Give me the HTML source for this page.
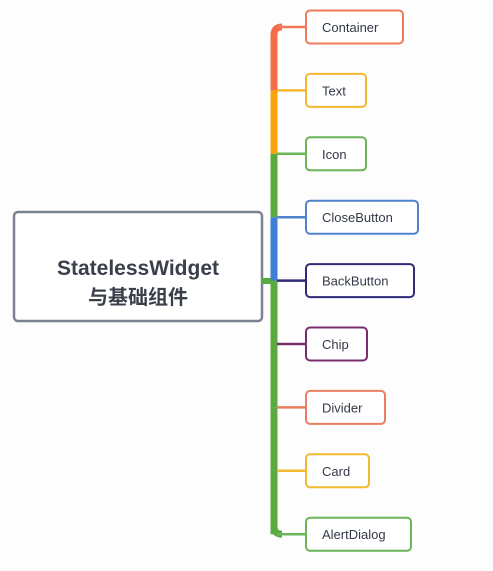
<!DOCTYPE html>
<html><head><meta charset="utf-8"><style>
html,body{margin:0;padding:0;background:#fdfdfd;width:493px;height:571px;overflow:hidden}
svg text{font-family:"Liberation Sans","Noto Sans CJK SC",sans-serif}
</style></head><body>
<svg id="map" width="493" height="571" viewBox="0 0 493 571" xmlns="http://www.w3.org/2000/svg">
<rect x="14" y="212" width="248" height="109" rx="4" fill="#fff" stroke="#7c8291" stroke-width="2.5"/>
<text x="138" y="275" text-anchor="middle" font-size="21" font-weight="bold" fill="#3a3f4a">StatelessWidget</text>
<text x="138" y="304" text-anchor="middle" font-size="20" font-weight="bold" fill="#3a3f4a">与基础组件</text>
<line x1="262" y1="281" x2="276" y2="281" stroke="#5aaa40" stroke-width="6"/>
<g id="nodes"></g>
</svg>
<script>
const labels=["Container","Text","Icon","CloseButton","BackButton","Chip","Divider","Card","AlertDialog"];
const boxWidths=[97,60,60,112,108,61,79,63,105];
const colors=["#ef7a5a","#f4b82e","#6cb557","#4f84cc","#2f2a78","#7a2c6c","#e97e62","#f2ba30","#6cb557"];
const trunkColors=["#f36d4b","#fba40a","#5aaa40","#3f7fd6","#5aaa40","#5aaa40","#5aaa40","#5aaa40","#5aaa40"];
const NS="http://www.w3.org/2000/svg";
const g=document.getElementById('nodes');
const y0=27,step=63.4,tx=274,bx=306,h=33;
const yc=i=>y0+i*step;
function mk(t,a){const e=document.createElementNS(NS,t);for(const k in a)e.setAttribute(k,a[k]);g.appendChild(e);return e;}
for(let i=0;i<labels.length-1;i++){
  const a=yc(i),b=yc(i+1);
  const p=mk('path',{d:i===0?`M${tx} ${b} L${tx} ${a+8} Q${tx} ${a} ${tx+8} ${a}`:`M${tx} ${a} L${tx} ${b}`,stroke:trunkColors[i],'stroke-width':7,fill:'none','stroke-linecap':'butt'});
  
  
}
const last=labels.length-1;
const lp=mk('path',{d:`M${tx} ${yc(last-1)} L${tx} ${yc(last)-8} Q${tx} ${yc(last)} ${tx+8} ${yc(last)}`,stroke:'#5aaa40','stroke-width':7,fill:'none'});


labels.forEach((l,i)=>{
  const y=yc(i);
  const br=mk('line',{x1:tx+3,y1:y,x2:bx,y2:y,stroke:colors[i],'stroke-width':2.5});
  
  
  const r=mk('rect',{x:bx,y:y-h/2,width:boxWidths[i],height:h,rx:4,fill:'#fff',stroke:colors[i],'stroke-width':2});
  
  
  const t=mk('text',{x:bx+16,y:y+5,'font-size':13,fill:'#333a48'});
  t.textContent=l;
  
  
});
</script>
</body></html>
